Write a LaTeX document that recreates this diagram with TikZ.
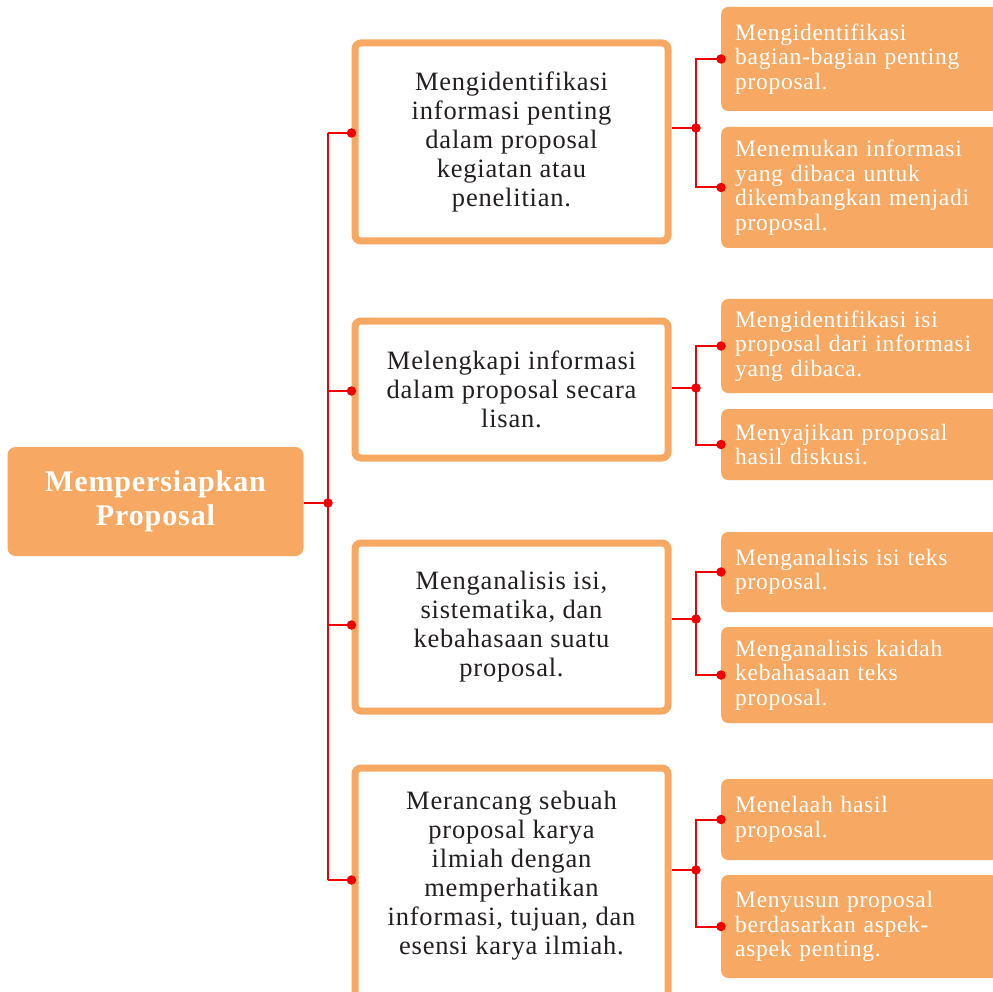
\documentclass[tikz,border=0pt]{standalone}
\usepackage{fontspec}
\setmainfont{Liberation Serif}[LetterSpace=3]
\usepackage{tikz}
\usetikzlibrary{positioning}
\definecolor{boxorange}{RGB}{247,169,99}
\definecolor{textgray}{RGB}{35,31,32}
\definecolor{linkred}{RGB}{240,0,0}

\begin{document}
\begin{tikzpicture}[x=1pt,y=-1pt,
  rootbox/.style={fill=boxorange, rounded corners=8pt, minimum width=296pt,
    minimum height=109pt, text=white, align=center,
    font=\fontsize{30}{34}\selectfont\bfseries},
  midtext/.style={text=textgray, align=center, font=\fontsize{26.5}{29}\selectfont},
  midbox/.style={midtext, draw=boxorange, line width=7pt, fill=white,
    rounded corners=6pt, minimum width=313pt},
  subbox/.style={fill=boxorange, rounded corners=7pt, anchor=west, text=white,
    text width=261pt, inner xsep=14pt, align=left,
    font=\fontsize{23.5}{24.5}\selectfont},
  redline/.style={draw=linkred, line width=2pt},
  joint/.style={circle, fill=linkred, inner sep=0pt, minimum size=9.5pt}]

  \useasboundingbox (0,0) rectangle (993,992);
  \clip (0,0) rectangle (993,992);

  % Root
  \node[rootbox] (root) at (155.5,501.5) {Mempersiapkan\\Proposal};

  % Middle column
  \node[midbox, minimum height=198pt] (mid1) at (511.5,142)
    {Mengidentifikasi\\informasi penting\\dalam proposal\\kegiatan atau\\penelitian.};
  \node[midbox, minimum height=137pt] (mid2) at (511.5,389.5)
    {Melengkapi informasi\\dalam proposal secara\\lisan.};
  \node[midbox, minimum height=168pt] (mid3) at (511.5,627)
    {Menganalisis isi,\\sistematika, dan\\kebahasaan suatu\\proposal.};
  \node[midbox, minimum height=250pt] (mid4) at (511.5,893) {};
  \node[midtext] (mid4text) at (511.5,876)
    {Merancang sebuah\\proposal karya\\ilmiah dengan\\memperhatikan\\informasi, tujuan, dan\\esensi karya ilmiah.};

  % Right column
  \node[subbox, minimum height=104pt] (sub1a) at (721,59)
    {Mengidentifikasi\\bagian-bagian penting\\proposal.};
  \node[subbox, minimum height=121pt] (sub1b) at (721,187.5)
    {Menemukan informasi\\yang dibaca untuk\\dikembangkan menjadi\\proposal.};
  \node[subbox, minimum height=94pt] (sub2a) at (721,346)
    {Mengidentifikasi isi\\proposal dari informasi\\yang dibaca.};
  \node[subbox, minimum height=71pt] (sub2b) at (721,444.5)
    {Menyajikan proposal\\hasil diskusi.};
  \node[subbox, minimum height=80pt] (sub3a) at (721,572)
    {Menganalisis isi teks\\proposal.};
  \node[subbox, minimum height=96pt] (sub3b) at (721,675)
    {Menganalisis kaidah\\kebahasaan teks\\proposal.};
  \node[subbox, minimum height=81pt] (sub4a) at (721,819.5)
    {Menelaah hasil\\proposal.};
  \node[subbox, minimum height=103pt] (sub4b) at (721,926.5)
    {Menyusun proposal\\berdasarkan aspek-\\aspek penting.};

  % Trunk from root
  \coordinate (hub) at (328,503);
  \coordinate (t1) at (328,133);
  \coordinate (t2) at (328,391);
  \coordinate (t3) at (328,625);
  \coordinate (t4) at (328,880);
  \draw[redline] (root.east |- hub) -- (hub);
  \draw[redline] (t1) -- (t4);
  \draw[redline] (t1) -- (t1 -| mid1.west) node[joint] {};
  \draw[redline] (t2) -- (t2 -| mid2.west) node[joint] {};
  \draw[redline] (t3) -- (t3 -| mid3.west) node[joint] {};
  \draw[redline] (t4) -- (t4 -| mid4.west) node[joint] {};
  \node[joint] at (hub) {};

  % Forks to the right column
  \foreach \i/\y in {1/128,2/388,3/619,4/870} {
    \coordinate (f\i) at (696,\y);
    \draw[redline] (f\i -| mid\i.east) -- (f\i);
    \draw[redline] (sub\i a.west) -| (f\i) |- (sub\i b.west);
    \node[joint] at (f\i) {};
    \node[joint] at (sub\i a.west) {};
    \node[joint] at (sub\i b.west) {};
  }
\end{tikzpicture}
\end{document}
